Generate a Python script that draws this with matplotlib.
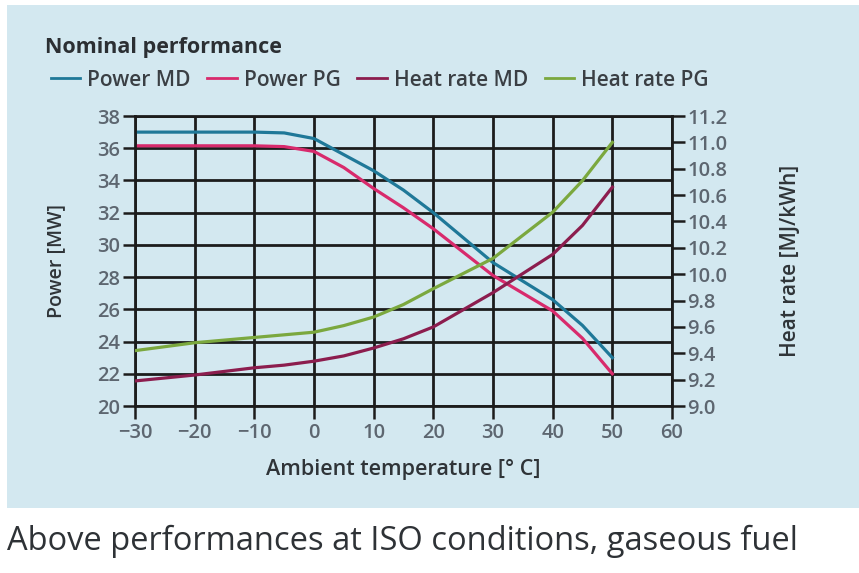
import matplotlib.pyplot as plt
from matplotlib.lines import Line2D

# values
temp = [-30, -20, -10, -5, 0, 5, 10, 15, 20, 30, 40, 45, 50]
power_md = [37.0, 37.0, 37.0, 36.95, 36.6, 35.6, 34.6, 33.4, 32.0, 28.9, 26.6, 25.0, 23.0]
power_pg = [36.15, 36.15, 36.15, 36.1, 35.8, 34.8, 33.5, 32.3, 31.0, 28.1, 25.9, 24.2, 22.0]
heat_md = [9.19, 9.235, 9.29, 9.31, 9.34, 9.38, 9.44, 9.51, 9.60, 9.86, 10.15, 10.37, 10.66]
heat_pg = [9.42, 9.48, 9.52, 9.54, 9.56, 9.61, 9.675, 9.77, 9.89, 10.12, 10.47, 10.71, 11.0]

x_ticks = [-30, -20, -10, 0, 10, 20, 30, 40, 50, 60]
power_ticks = [20, 22, 24, 26, 28, 30, 32, 34, 36, 38]
heat_ticks = [9.0, 9.2, 9.4, 9.6, 9.8, 10.0, 10.2, 10.4, 10.6, 10.8, 11.0, 11.2]

names = ["Power MD", "Power PG", "Heat rate MD", "Heat rate PG"]
colors = ["#1f7898", "#d82a6c", "#8c1d4e", "#7ba83e"]

plt.rcParams['font.family'] = ['Open Sans', 'DejaVu Sans']
bg = "#d3e8f0"
tick_col = "#5d6670"
grid_col = "#1c1c1c"
label_col = "#2f3438"

fig = plt.figure(figsize=(8.59, 5.73), dpi=100)
fig.patch.set_facecolor("white")
# light blue panel behind the chart
panel = plt.Rectangle((7 / 859, 1 - 508 / 573), 852 / 859, 503 / 573,
                      transform=fig.transFigure, facecolor=bg, edgecolor="none", zorder=-10)
fig.patches.append(panel)

ax = fig.add_axes([135 / 859, 1 - 406 / 573, 537 / 859, 290 / 573])
ax.set_facecolor("none")
ax.set_xlim(-30, 60)
ax.set_ylim(20, 38)
ax.set_xticks(x_ticks)
ax.set_xticklabels([str(t).replace("-", "\u2212") for t in x_ticks])
ax.set_yticks(power_ticks)
ax.grid(True, color=grid_col, linewidth=2.0)
ax.set_axisbelow(True)
for s in ax.spines.values():
    s.set_color(grid_col)
    s.set_linewidth(2.0)
ax.tick_params(colors=tick_col, labelsize=14.5, length=9, width=1.8)
ax.tick_params(axis='both', color=grid_col)
ax.tick_params(axis='x', pad=3)
ax.tick_params(axis='y', pad=2)
for lab in ax.get_xticklabels() + ax.get_yticklabels():
    lab.set_fontweight("semibold")
ax.set_ylabel("Power [MW]", fontsize=14, color=label_col, labelpad=22, fontweight="semibold")
ax.set_xlabel("Ambient temperature [° C]", fontsize=15.5, color=label_col, labelpad=12,
              fontweight="semibold")

ax2 = ax.twinx()
ax2.set_ylim(9.0, 11.2)
ax2.set_yticks(heat_ticks)
ax2.set_yticklabels(["%.1f" % v for v in heat_ticks])
for s in ax2.spines.values():
    s.set_visible(False)
ax2.tick_params(colors=tick_col, labelsize=14.5, length=9, width=1.8, pad=2)
ax2.tick_params(axis='y', color=grid_col)
for lab in ax2.get_yticklabels():
    lab.set_fontweight("semibold")
ax2.set_ylabel("Heat rate [MJ/kWh]", fontsize=15, color=label_col, labelpad=38,
               fontweight="semibold")

ax.plot(temp, power_md, color=colors[0], linewidth=2.3)
ax.plot(temp, power_pg, color=colors[1], linewidth=2.3)
ax2.plot(temp, heat_pg, color=colors[3], linewidth=2.3)
ax2.plot(temp, heat_md, color=colors[2], linewidth=2.3)

fig.text(45 / 859, 1 - 48 / 573, "Nominal performance", fontsize=15.5, fontweight="bold",
         color="#2b2f33", va="center", ha="left")
handles = [Line2D([], [], color=c, linewidth=2) for c in colors]
fig.legend(handles, names, loc="center left", bbox_to_anchor=(32 / 859, 1 - 80 / 573),
           ncol=4, frameon=False, handlelength=1.4, handletextpad=0.35,
           columnspacing=0.8, labelcolor="#3a3f44",
           prop={"weight": "semibold", "size": 15})

fig.text(7 / 859, 1 - 541 / 573, "Above performances at ISO conditions, gaseous fuel",
         fontsize=23.5, color="#2e3236", va="center", ha="left")

fig.savefig("out.png", dpi=100, facecolor=fig.get_facecolor())
